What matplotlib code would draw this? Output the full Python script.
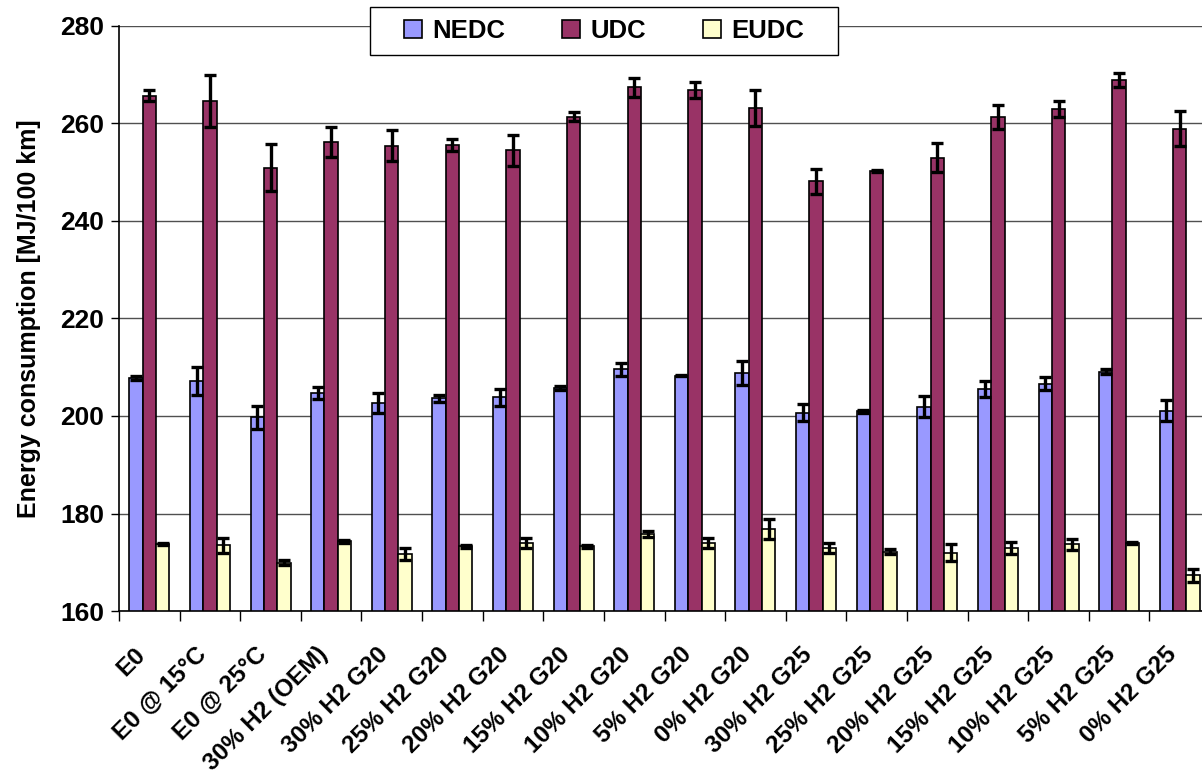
import numpy as np
import matplotlib.pyplot as plt
from matplotlib.patches import Rectangle
from matplotlib.transforms import ScaledTranslation

plt.rcParams['font.family'] = ['Liberation Sans', 'DejaVu Sans']
plt.rcParams['font.weight'] = 'bold'

categories = ['E0', 'E0 @ 15°C', 'E0 @ 25°C', '30% H2 (OEM)',
              '30% H2 G20', '25% H2 G20', '20% H2 G20', '15% H2 G20',
              '10% H2 G20', '5% H2 G20', '0% H2 G20',
              '30% H2 G25', '25% H2 G25', '20% H2 G25', '15% H2 G25',
              '10% H2 G25', '5% H2 G25', '0% H2 G25']

nedc = [207.7, 207.2, 199.7, 204.7, 202.7, 203.6, 203.8, 205.8, 209.6,
        208.3, 208.8, 200.7, 201.0, 201.9, 205.5, 206.6, 209.1, 201.1]
nedc_err = [0.4, 2.9, 2.3, 1.3, 2.0, 0.7, 1.8, 0.4, 1.3,
            0.2, 2.4, 1.7, 0.3, 2.2, 1.7, 1.3, 0.5, 2.2]

udc = [265.7, 264.6, 250.9, 256.2, 255.4, 255.6, 254.5, 261.4, 267.4,
       266.9, 263.1, 248.1, 250.2, 253.0, 261.3, 263.0, 268.9, 258.9]
udc_err = [1.2, 5.4, 4.8, 3.1, 3.2, 1.2, 3.2, 0.9, 2.0,
           1.7, 3.7, 2.6, 0.2, 2.9, 2.4, 1.6, 1.4, 3.6]

eudc = [173.7, 173.5, 169.9, 174.3, 171.7, 173.3, 174.0, 173.3, 175.8,
        174.0, 176.8, 173.0, 172.2, 172.0, 172.9, 173.7, 174.0, 167.3]
eudc_err = [0.2, 1.5, 0.5, 0.3, 1.2, 0.3, 1.0, 0.3, 0.6,
            1.0, 2.0, 1.0, 0.5, 1.7, 1.2, 1.1, 0.2, 1.3]

series = [('NEDC', nedc, nedc_err, '#9999FF'),
          ('UDC', udc, udc_err, '#993366'),
          ('EUDC', eudc, eudc_err, '#FFFFCC')]


def main():
    fig = plt.figure(figsize=(12.02, 7.76), dpi=100)
    ax = fig.add_axes([0.099, 0.2126, 0.9077, 0.754])

    x = np.arange(len(categories))
    w = 0.22
    for i, (name, vals, errs, color) in enumerate(series):
        ax.bar(x + (i - 1) * w, np.array(vals) - 160, w, bottom=160,
               color=color, edgecolor='black', linewidth=1.2, label=name,
               yerr=errs, error_kw=dict(ecolor='black', elinewidth=2.4,
                                        capsize=4.5, capthick=2.4),
               zorder=3)

    ax.set_ylim(160, 280)
    ax.set_xlim(-0.5, len(categories) - 0.5)
    ax.set_yticks(np.arange(160, 281, 20))
    ax.yaxis.grid(True, color='#505050', linewidth=1.0, zorder=0)
    ax.tick_params(axis='y', labelsize=19, length=6, width=1, pad=4.5)

    ax.set_xticks(x)
    ax.set_xticklabels(categories, rotation=45, ha='right', va='center',
                       rotation_mode='anchor', fontsize=17.5,
                       fontweight='bold')
    ax.tick_params(axis='x', which='major', length=0, pad=0)
    shift = ScaledTranslation(-0.07, -0.40, fig.dpi_scale_trans)
    for lab in ax.get_xticklabels():
        lab.set_transform(lab.get_transform() + shift)
    ax.set_xticks(np.arange(-0.5, len(categories)), minor=True)
    ax.tick_params(axis='x', which='minor', length=7, width=1)

    for s in ['top', 'right']:
        ax.spines[s].set_visible(False)
    ax.spines['left'].set_linewidth(1.2)
    ax.spines['bottom'].set_linewidth(1.2)

    ax.set_ylabel('Energy consumption [MJ/100 km]', fontsize=18,
                  fontweight='bold', labelpad=14)

    # legend box drawn separately so its padding matches the original
    fig.patches.append(Rectangle((370 / 1202, 1 - 55 / 776), 468 / 1202,
                                 48 / 776, transform=fig.transFigure,
                                 facecolor='white', edgecolor='black',
                                 linewidth=1.0, zorder=4))
    fig.legend(loc='center', bbox_to_anchor=(0.5025, 0.96), ncol=3,
               fontsize=18.5, frameon=False,
               handlelength=0.7, handleheight=0.7, handletextpad=0.4,
               columnspacing=2.2)

    fig.savefig('out.png', dpi=100)
    plt.close(fig)


if __name__ == '__main__':
    main()
